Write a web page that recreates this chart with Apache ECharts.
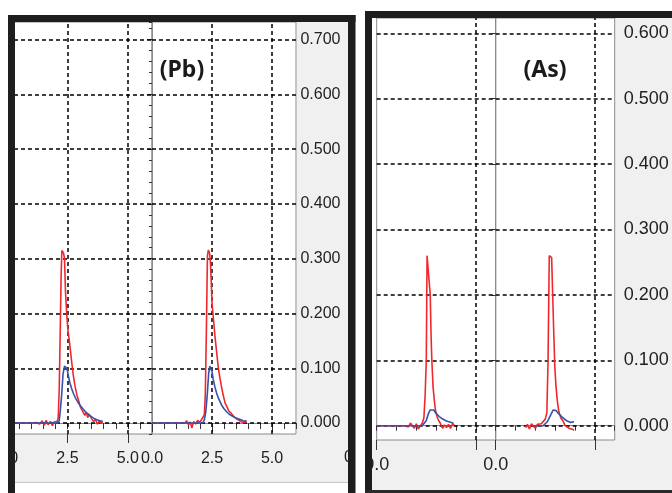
<!DOCTYPE html>
<html><head><meta charset="utf-8">
<script src="https://cdn.jsdelivr.net/npm/echarts@6/dist/echarts.min.js"></script>
<style>html,body{margin:0;padding:0;background:#fff}#c{width:672px;height:493px}</style>
</head><body><div id="c"></div>
<script>
// ---------- Panel titles ----------
const titlePb = '(Pb)';
const titleAs = '(As)';

// ---------- Tick values ----------
const yTicksPb = [0, 0.1, 0.2, 0.3, 0.4, 0.5, 0.6, 0.7];
const yTicksAs = [0, 0.1, 0.2, 0.3, 0.4, 0.5, 0.6];
const xLabelsPb = [0, 2.5, 5];
const xLabelsAs = [0];
const xMajorAs = [0, 5];
const xGridPb = [2.5, 5];
const xGridAs = [5];

// ---------- Pb, first run ----------
const pb1RedX = [0, 1.0, 1.2, 1.35, 1.45, 1.55, 1.62, 1.7, 1.8, 1.88, 1.95, 2.02, 2.08, 2.12, 2.16, 2.2, 2.24, 2.27, 2.3, 2.34, 2.38, 2.42, 2.47, 2.52, 2.58, 2.63, 2.68, 2.75, 2.82, 2.9, 2.96, 3.03, 3.1, 3.16, 3.22, 3.28, 3.34, 3.4, 3.5, 3.58, 3.66, 3.74, 3.82, 3.9, 3.96];
const pb1RedY = [0, 0, 0.001, -0.002, 0.004, -0.004, 0.005, -0.003, 0.003, -0.005, 0.002, 0.004, 0.003, 0.01, 0.06, 0.16, 0.27, 0.315, 0.318, 0.31, 0.3, 0.24, 0.2, 0.17, 0.15, 0.13, 0.11, 0.085, 0.066, 0.05, 0.042, 0.03, 0.024, 0.026, 0.014, 0.02, 0.01, 0.016, 0.008, 0.003, 0.007, -0.002, 0.004, -0.001, 0.002];
const pb1BlueX = [0, 2.1, 2.16, 2.2, 2.26, 2.32, 2.38, 2.43, 2.48, 2.54, 2.6, 2.68, 2.75, 2.82, 2.92, 3.03, 3.14, 3.24, 3.34, 3.45, 3.58, 3.72, 3.85, 3.96];
const pb1BlueY = [0, 0, 0.004, 0.02, 0.05, 0.09, 0.104, 0.106, 0.1, 0.086, 0.074, 0.062, 0.054, 0.047, 0.039, 0.032, 0.026, 0.021, 0.017, 0.013, 0.009, 0.006, 0.004, 0.003];

// ---------- Pb, second run ----------
const pb2RedX = [0, 1.37, 1.45, 1.52, 1.6, 1.66, 1.74, 1.82, 1.9, 1.98, 2.06, 2.12, 2.18, 2.22, 2.27, 2.31, 2.35, 2.4, 2.44, 2.5, 2.56, 2.62, 2.68, 2.74, 2.8, 2.88, 2.96, 3.05, 3.12, 3.2, 3.3, 3.4, 3.51, 3.6, 3.72, 3.8, 3.88, 3.93];
const pb2RedY = [0, 0, 0.004, -0.003, 0.002, -0.009, 0.003, -0.002, 0.005, 0.001, 0.006, 0.004, 0.015, 0.05, 0.18, 0.305, 0.316, 0.31, 0.29, 0.22, 0.19, 0.16, 0.135, 0.11, 0.09, 0.07, 0.052, 0.036, 0.03, 0.022, 0.018, 0.012, 0.008, 0.006, 0.002, 0.004, 0.001, 0.005];
const pb2BlueX = [0, 2.12, 2.18, 2.24, 2.3, 2.36, 2.41, 2.45, 2.5, 2.55, 2.62, 2.69, 2.78, 2.9, 3.0, 3.1, 3.22, 3.38, 3.5, 3.65, 3.8, 3.93];
const pb2BlueY = [0, 0, 0.006, 0.02, 0.05, 0.09, 0.104, 0.106, 0.094, 0.08, 0.066, 0.055, 0.044, 0.033, 0.026, 0.021, 0.016, 0.012, 0.009, 0.007, 0.004, 0.003];

// ---------- As, first run ----------
const as1RedX = [0, 1.4, 1.5, 1.6, 1.7, 1.8, 1.9, 2.0, 2.1, 2.2, 2.3, 2.38, 2.44, 2.5, 2.54, 2.58, 2.64, 2.7, 2.74, 2.78, 2.84, 2.9, 2.96, 3.04, 3.12, 3.22, 3.32, 3.42, 3.52, 3.62, 3.72, 3.82, 3.92];
const as1RedY = [0, 0, 0.003, -0.002, 0.004, 0.0, -0.004, 0.003, -0.005, -0.002, 0.004, 0.012, 0.045, 0.1, 0.26, 0.262, 0.258, 0.2, 0.14, 0.1, 0.06, 0.04, 0.024, 0.014, 0.008, 0.003, -0.004, 0.001, -0.003, 0.002, -0.004, 0.002, 0.001];
const as1BlueX = [0, 2.3, 2.4, 2.5, 2.6, 2.7, 2.8, 2.88, 2.96, 3.05, 3.15, 3.28, 3.4, 3.52, 3.64, 3.76, 3.88];
const as1BlueY = [0, 0, 0.002, 0.008, 0.018, 0.024, 0.0255, 0.024, 0.02, 0.017, 0.014, 0.011, 0.009, 0.007, 0.006, 0.005, 0.0035];

// ---------- As, second run ----------
const as2RedX = [1.52, 1.6, 1.7, 1.8, 1.9, 2.0, 2.1, 2.2, 2.3, 2.4, 2.5, 2.58, 2.64, 2.7, 2.76, 2.82, 2.88, 2.92, 2.98, 3.04, 3.1, 3.18, 3.28, 3.38, 3.5, 3.6, 3.7, 3.8, 3.9, 3.95];
const as2RedY = [-0.003, 0.002, -0.005, 0.003, 0.0, -0.004, 0.002, 0.004, 0.003, 0.006, 0.01, 0.02, 0.1, 0.26, 0.26, 0.257, 0.254, 0.15, 0.09, 0.06, 0.04, 0.022, 0.012, 0.008, 0.0, -0.002, -0.004, -0.003, -0.006, -0.007];
const as2BlueX = [2.0, 2.4, 2.5, 2.6, 2.7, 2.8, 2.9, 2.97, 3.05, 3.15, 3.25, 3.35, 3.45, 3.55, 3.65, 3.78, 3.88, 3.95];
const as2BlueY = [0, 0, 0.002, 0.006, 0.012, 0.018, 0.024, 0.0255, 0.023, 0.019, 0.016, 0.013, 0.01, 0.008, 0.007, 0.005, 0.005, 0.006];

// ---------- styling ----------
const RED = '#f0282d';
const BLUE = '#3552ad';
const PBFONT = "'Liberation Sans',Arial,sans-serif";
const PBSIZE = 16;
const REG = "'Liberation Sans',Arial,sans-serif";
const TICK = '#333';
const AXLINE = '#8a8a8a';
const PB_MIN = -0.02, PB_MAX = 0.732;
const AS_MIN = -0.0219, AS_MAX = 0.6234;

const zip = (xs, ys) => xs.map((x, i) => [x, ys[i]]);

function minorX(grid, interval, len) {
  return { type: 'value', gridIndex: grid, min: 0, max: 6, interval: interval, position: 'bottom',
    axisLine: { show: true, lineStyle: { color: AXLINE, width: 1 } },
    axisTick: { show: true, length: len, lineStyle: { color: TICK, width: 1 } },
    axisLabel: { show: false }, splitLine: { show: false } };
}
function majorX(grid, ticks, labels, len, font, size, margin) {
  return { type: 'value', gridIndex: grid, min: 0, max: 6, position: 'bottom',
    axisLine: { show: false },
    axisTick: { show: true, length: len, customValues: ticks, lineStyle: { color: TICK, width: 1 } },
    axisLabel: { show: true, customValues: labels, formatter: v => Number(v).toFixed(1), fontFamily: font, fontSize: size, color: '#222', margin: margin, hideOverlap: false },
    splitLine: { show: false } };
}
function line(xs, ys, color, xi, yi) {
  return { type: 'line', xAxisIndex: xi, yAxisIndex: yi, data: zip(xs, ys), symbol: 'none', z: 10,
    lineStyle: { color: color, width: 1.6 }, animation: false };
}
function gridLines(xi, yi, yVals, xVals) {
  return { type: 'line', xAxisIndex: xi, yAxisIndex: yi, data: [], silent: true, z: 1,
    markLine: { symbol: ['none', 'none'], silent: true, animation: false, label: { show: false },
      lineStyle: { type: [4, 3], color: '#000', width: 1.5 },
      data: yVals.map(v => ({ yAxis: v })).concat(xVals.map(v => ({ xAxis: v }))) } };
}

const gridStyle = { show: true, borderColor: AXLINE, borderWidth: 1, backgroundColor: 'transparent', containLabel: false, outerBoundsMode: 'none' };

const option = {
  backgroundColor: '#fff',
  animation: false,
  grid: [
    Object.assign({ left: 7, top: 22, width: 145, height: 412 }, gridStyle),
    Object.assign({ left: 152, top: 22, width: 144, height: 412 }, gridStyle),
    Object.assign({ left: 376.7, top: 18, width: 119, height: 422 }, gridStyle),
    Object.assign({ left: 495.7, top: 18, width: 119, height: 422 }, gridStyle)
  ],
  xAxis: [
    minorX(0, 0.5, 6), majorX(0, xLabelsPb, xLabelsPb, 9, PBFONT, PBSIZE, 17),
    minorX(1, 0.5, 6), majorX(1, xLabelsPb, xLabelsPb, 9, PBFONT, PBSIZE, 17),
    minorX(2, 1, 5), majorX(2, xMajorAs, xLabelsAs, 10, REG, 18, 16),
    minorX(3, 1, 5), majorX(3, xMajorAs, xLabelsAs, 10, REG, 18, 16)
  ],
  yAxis: [
    { type: 'value', gridIndex: 0, min: PB_MIN, max: PB_MAX, show: false, splitLine: { show: false } },
    { type: 'value', gridIndex: 1, min: PB_MIN, max: PB_MAX, position: 'right', offset: 50.5,
      axisLine: { show: true, lineStyle: { color: AXLINE } },
      axisTick: { show: true, inside: true, length: 5, customValues: yTicksPb, lineStyle: { color: TICK } },
      axisLabel: { show: true, inside: true, margin: 6, customValues: yTicksPb, formatter: v => Number(v).toFixed(3), fontFamily: PBFONT, fontSize: PBSIZE, color: '#222' },
      splitLine: { show: false } },
    { type: 'value', gridIndex: 1, min: PB_MIN, max: PB_MAX, interval: 0.02, position: 'right', offset: 50.5,
      axisLine: { show: false },
      axisTick: { show: true, inside: true, length: 3, lineStyle: { color: TICK } },
      axisLabel: { show: false }, splitLine: { show: false } },
    { type: 'value', gridIndex: 2, min: AS_MIN, max: AS_MAX, show: false, splitLine: { show: false } },
    { type: 'value', gridIndex: 3, min: AS_MIN, max: AS_MAX, position: 'right',
      axisLine: { show: true, lineStyle: { color: AXLINE } },
      axisTick: { show: true, inside: true, length: 4, customValues: yTicksAs, lineStyle: { color: TICK } },
      axisLabel: { show: true, margin: 9, customValues: yTicksAs, formatter: v => Number(v).toFixed(3), fontFamily: REG, fontSize: 18, color: '#222' },
      splitLine: { show: false } }
  ],
  series: [
    gridLines(1, 0, yTicksPb, xGridPb),
    gridLines(3, 1, yTicksPb, xGridPb),
    gridLines(5, 3, yTicksAs, xGridAs),
    gridLines(7, 4, yTicksAs, xGridAs),
    line(pb1RedX, pb1RedY, RED, 1, 0), line(pb1BlueX, pb1BlueY, BLUE, 1, 0),
    line(pb2RedX, pb2RedY, RED, 3, 1), line(pb2BlueX, pb2BlueY, BLUE, 3, 1),
    line(as1RedX, as1RedY, RED, 5, 3), line(as1BlueX, as1BlueY, BLUE, 5, 3),
    line(as2RedX, as2RedY, RED, 7, 4), line(as2BlueX, as2BlueY, BLUE, 7, 4)
  ],
  graphic: [
    // grey axis areas
    { type: 'rect', z: -10, silent: true, shape: { x: 297, y: 22, width: 51, height: 461 }, style: { fill: '#f0f0f0' } },
    { type: 'rect', z: -10, silent: true, shape: { x: 15, y: 434, width: 282, height: 48.5 }, style: { fill: '#f0f0f0' } },
    { type: 'rect', z: -9, silent: true, shape: { x: 15, y: 482, width: 333, height: 1 }, style: { fill: '#c8c8c8' } },
    { type: 'rect', z: -10, silent: true, shape: { x: 615, y: 18, width: 57, height: 472 }, style: { fill: '#f0f0f0' } },
    { type: 'rect', z: -10, silent: true, shape: { x: 372, y: 440, width: 243, height: 50 }, style: { fill: '#f0f0f0' } },
    // stray clipped label at right of Pb axis area
    { type: 'text', z: 50, silent: true, x: 344, y: 458, style: { text: '0', font: PBSIZE + "px " + PBFONT, fill: '#222', align: 'left', verticalAlign: 'middle' } },
    // white margin left of the first frame
    { type: 'rect', z: 100, silent: true, shape: { x: 0, y: 0, width: 8, height: 493 }, style: { fill: '#fff' } },
    // black frames
    { type: 'rect', z: 100, silent: true, shape: { x: 8, y: 15, width: 347.5, height: 7 }, style: { fill: '#1e1e1e' } },
    { type: 'rect', z: 100, silent: true, shape: { x: 8, y: 15, width: 7, height: 478 }, style: { fill: '#1e1e1e' } },
    { type: 'rect', z: 100, silent: true, shape: { x: 348, y: 15, width: 7.5, height: 478 }, style: { fill: '#1e1e1e' } },
    { type: 'rect', z: 100, silent: true, shape: { x: 365, y: 11, width: 307, height: 7 }, style: { fill: '#1e1e1e' } },
    { type: 'rect', z: 100, silent: true, shape: { x: 365, y: 11, width: 7, height: 482 }, style: { fill: '#1e1e1e' } },
    { type: 'rect', z: 100, silent: true, shape: { x: 365, y: 490, width: 307, height: 3 }, style: { fill: '#2a2a2a' } },
    // panel titles
    { type: 'text', z: 100, silent: true, x: 182, y: 70, style: { text: titlePb, font: "bold 23px 'Noto Sans','Open Sans',sans-serif", fill: '#1a1a1a', align: 'center', verticalAlign: 'middle' } },
    { type: 'text', z: 100, silent: true, x: 545, y: 70, style: { text: titleAs, font: "bold 23px 'Noto Sans','Open Sans',sans-serif", fill: '#1a1a1a', align: 'center', verticalAlign: 'middle' } }
  ]
};

const chart = echarts.init(document.getElementById('c'), null, { renderer: 'canvas' });
chart.setOption(option);
</script></body></html>
